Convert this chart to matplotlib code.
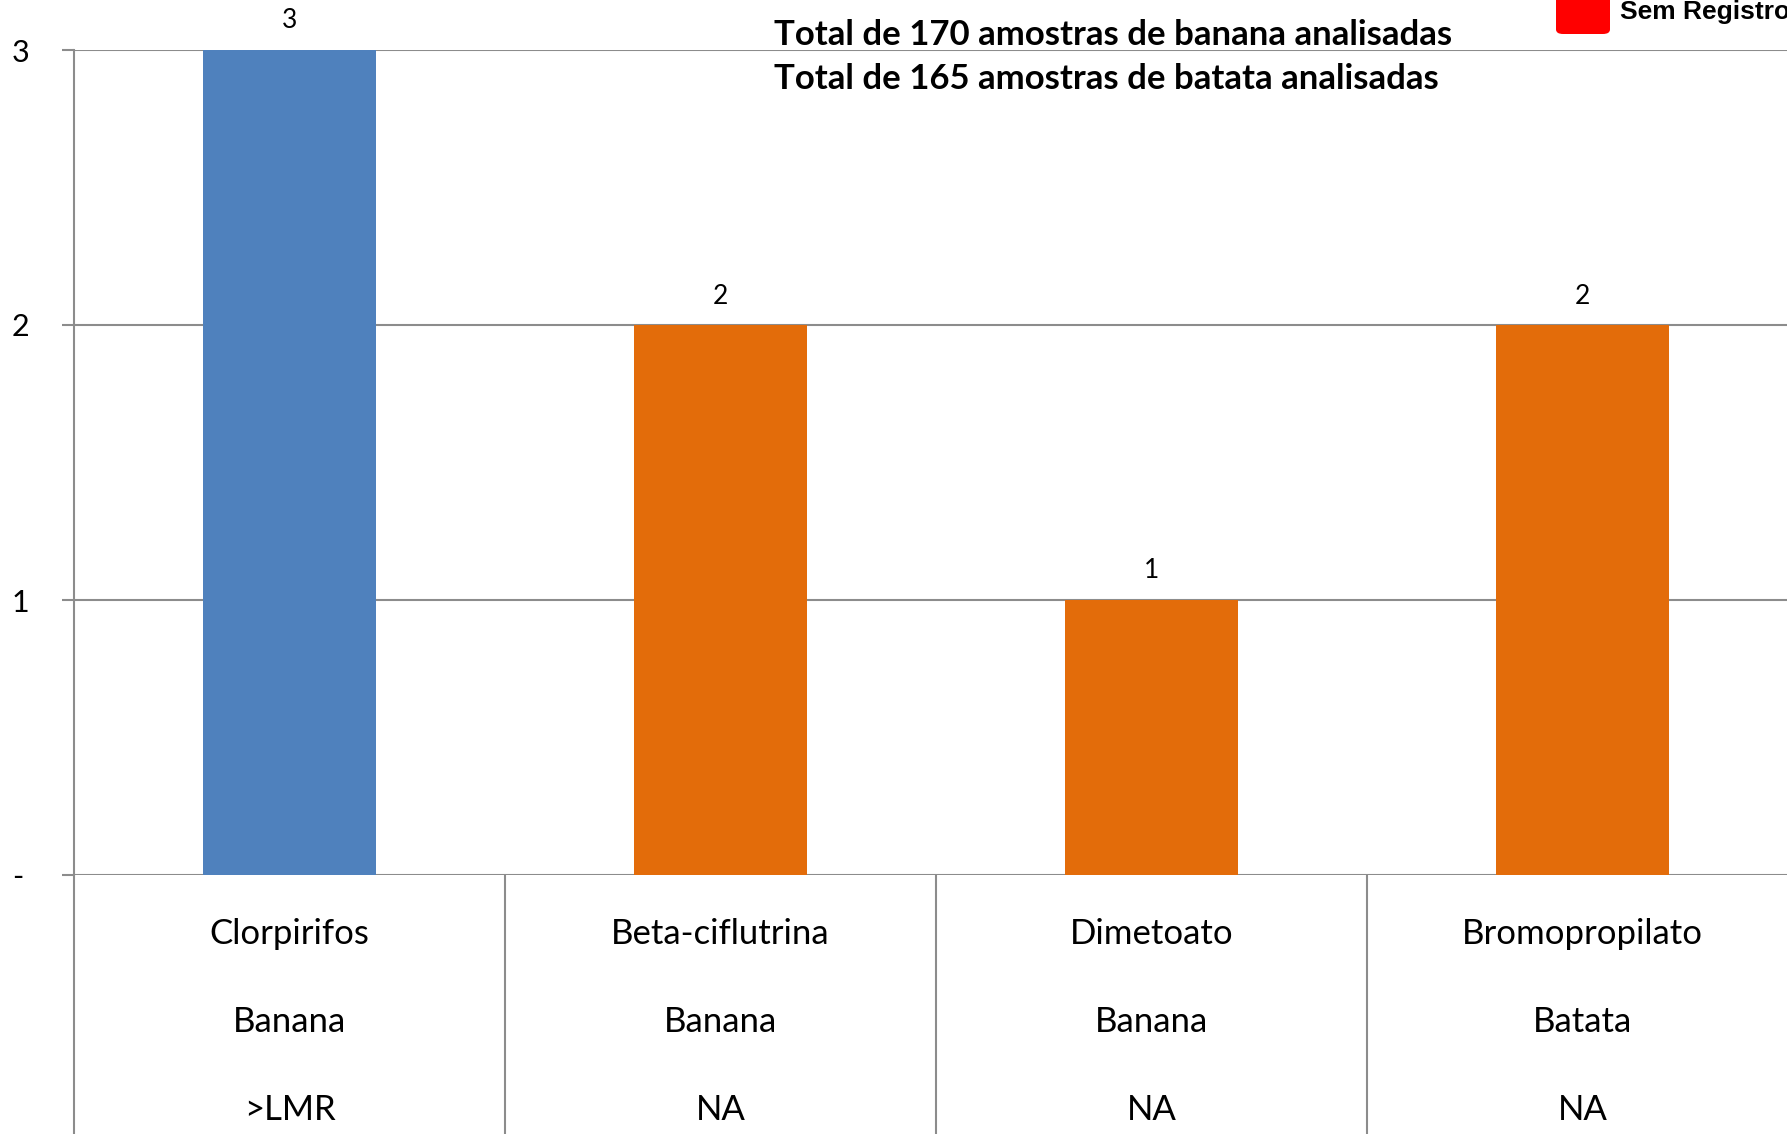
import matplotlib.pyplot as plt
from matplotlib.patches import FancyBboxPatch
from matplotlib.transforms import blended_transform_factory

# Data
pesticides = ['Clorpirifos', 'Beta-ciflutrina', 'Dimetoato', 'Bromopropilato']
crops = ['Banana', 'Banana', 'Banana', 'Batata']
status = ['>LMR', 'NA', 'NA', 'NA']
counts = [3, 2, 1, 2]
ytick_values = [0, 1, 2, 3]
ytick_labels = ['-', '1', '2', '3']
notes = ['Total de 170 amostras de banana analisadas',
         'Total de 165 amostras de batata analisadas']
legend_label = 'Sem Registro'

status_colors = {'>LMR': '#4F81BD', 'NA': '#E36C0A'}
grid_color = '#8C8C8C'
body_font = ['Lato', 'DejaVu Sans']

W, H = 1787, 1134
fig = plt.figure(figsize=(W / 100, H / 100), dpi=100)

# axes placement (pixels -> figure fraction)
left_px, top_px, zero_px, right_px = 74, 50, 875, 1798
ax = fig.add_axes([left_px / W, 1 - zero_px / H,
                   (right_px - left_px) / W, (zero_px - top_px) / H])

x = list(range(len(pesticides)))
colors = [status_colors[s] for s in status]
ax.bar(x, counts, width=0.4, color=colors, zorder=3)

ax.set_xlim(-0.5, len(pesticides) - 0.5)
ax.set_ylim(0, 3)
ax.set_yticks(ytick_values)
ax.set_yticklabels(ytick_labels, fontsize=22, family=body_font, ha='left')
ax.tick_params(axis='y', length=8.6, width=1.5, color=grid_color, pad=36)
ax.set_xticks([])
ax.grid(axis='y', color=grid_color, linewidth=1.5, zorder=0)
for side in ['top', 'right', 'bottom']:
    ax.spines[side].set_visible(False)
ax.spines['left'].set_color(grid_color)
ax.spines['left'].set_linewidth(1.5)

# value labels above bars
for xi, v in zip(x, counts):
    ax.text(xi, v + 0.06, str(v), ha='center', va='bottom', fontsize=19,
            family=body_font)

# category table under the axis
trans = blended_transform_factory(ax.transData, ax.transAxes)
ax_h = (zero_px - top_px)
bottom_axes = -(H - zero_px) / ax_h
ax.vlines([-0.5], bottom_axes, 0, transform=trans, color=grid_color,
          linewidth=1.5, clip_on=False)
ax.vlines([xi + 0.5 for xi in x[:-1]], bottom_axes, 0, transform=trans,
          color=grid_color, linewidth=1.5, clip_on=False)
row_px = [934, 1022, 1110]
for xi, p, c, s in zip(x, pesticides, crops, status):
    for txt, ry in zip([p, c, s], row_px):
        ax.text(xi, -(ry - zero_px) / ax_h, txt, transform=trans,
                ha='center', va='center', fontsize=25, family=body_font,
                clip_on=False)

# notes at the top
fig.text(774 / W, 1 - 35 / H, notes[0], ha='left', va='center',
         fontsize=25, fontweight='bold', family=body_font)
fig.text(774 / W, 1 - 79 / H, notes[1], ha='left', va='center',
         fontsize=25, fontweight='bold', family=body_font)

# partial legend in the corner
patch = FancyBboxPatch((1556 / W, 1 - 34 / H), 54 / W, 50 / H,
                       boxstyle='round,pad=0,rounding_size=0.004',
                       transform=fig.transFigure, facecolor='#FF0000',
                       edgecolor='none')
fig.patches.append(patch)
fig.text(1620 / W, 1 - 12 / H, legend_label, ha='left', va='center',
         fontsize=19, fontweight='bold', family='Liberation Sans')

fig.savefig('out.png', dpi=100)
